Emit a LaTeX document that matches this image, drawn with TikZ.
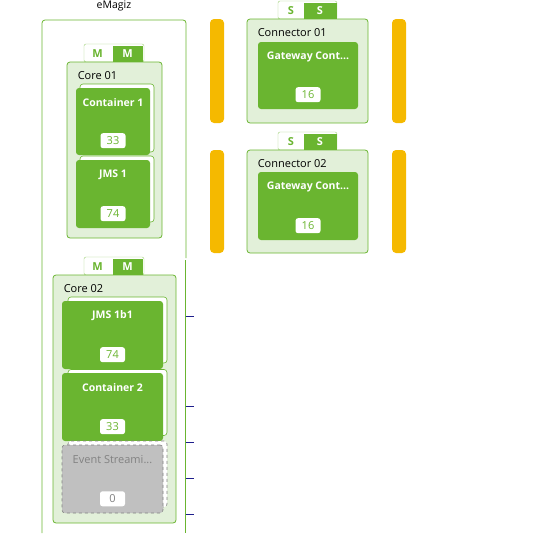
\documentclass[tikz,border=0pt]{standalone}
\usepackage{fontspec}
\setmainfont{Open Sans}
\usepackage{tikz}
\usetikzlibrary{positioning, calc}

\definecolor{emzgreen}{RGB}{106, 181, 48}
\definecolor{emzlight}{RGB}{226, 240, 217}
\definecolor{emztab}{RGB}{160, 210, 120}
\definecolor{emzyellow}{RGB}{245, 185, 0}
\definecolor{emzgray}{RGB}{192, 192, 192}
\definecolor{emzdash}{RGB}{130, 130, 130}
\definecolor{emzblue}{RGB}{30, 30, 140}

\tikzset{
  groupbox/.style={draw=emzgreen, fill=emzlight, rounded corners=3pt, line width=0.8pt},
  cardback/.style={draw=emzgreen, fill=white, rounded corners=3pt, line width=0.6pt},
  card/.style={fill=emzgreen, rounded corners=3pt},
  cardtitle/.style={font=\fontsize{10.5}{12}\selectfont\bfseries, text=white},
  badge/.style={fill=white, rounded corners=2.5pt, minimum width=25pt, minimum height=15pt, inner sep=0pt, font=\fontsize{11}{12}\selectfont, text=emzgreen},
  grouptitle/.style={font=\fontsize{11}{13}\selectfont, anchor=west, inner sep=0pt},
  tabcell/.style={minimum height=18pt, inner sep=0pt, font=\fontsize{11}{12}\selectfont\bfseries},
  ybar/.style={fill=emzyellow, rounded corners=4pt, minimum width=14pt, inner sep=0pt}
}

\begin{document}
\begin{tikzpicture}[x=1pt, y=-1pt]
  \useasboundingbox (0,0) rectangle (559,533);

  % eMagiz frame
  \node[font=\fontsize{10.5}{12}\selectfont] (emtitle) at (114, 6) {eMagiz};
  \draw[emzgreen, line width=0.8pt, rounded corners=3pt] (42, 533) -- (42, 20) -- (186, 20) -- (186, 258);
  \draw[emzgreen, line width=0.8pt] (185, 260) -- (185, 533);
  \foreach \ty in {316, 406, 442, 478, 514}
    \draw[emzblue, line width=0.8pt] (185.5, \ty) -- (194, \ty);

  % Core 01
  \node[tabcell, draw=emztab, fill=white, rounded corners=2pt, minimum width=60pt] (tabA) at (114, 53) {};
  \node[tabcell, fill=emzgreen, text=white, minimum width=30pt, minimum height=16pt] (tabAr) at (127.5, 53.5) {M};
  \node[tabcell, text=emzgreen, minimum width=26pt, minimum height=16pt] (tabAl) at (97.5, 53.5) {M};
  \node[groupbox, minimum width=95pt, minimum height=176pt] (core1) at (114.5, 150) {};
  \node[grouptitle] (core1t) at ($(core1.north west)+(11, 14)$) {Core 01};

  \node[cardback, minimum width=74pt, minimum height=68pt] (cont1b) at (117, 118) {};
  \node[card, minimum width=74pt, minimum height=67pt] (cont1) at (113, 121.5) {};
  \node[cardtitle] (cont1t) at ($(cont1.north)+(0, 15)$) {Container 1};
  \node[badge] (cont1n) at ($(cont1.south)+(0, -14.5)$) {33};

  \node[cardback, minimum width=74pt, minimum height=66pt] (jms1b) at (117, 189) {};
  \node[card, minimum width=74pt, minimum height=68pt] (jms1) at (113, 194) {};
  \node[cardtitle] (jms1t) at ($(jms1.north)+(0, 15)$) {JMS 1};
  \node[badge] (jms1n) at ($(jms1.south)+(0, -14.5)$) {74};

  % Core 02
  \node[tabcell, draw=emztab, fill=white, rounded corners=2pt, minimum width=60pt] (tabB) at (114, 266) {};
  \node[tabcell, fill=emzgreen, text=white, minimum width=30pt, minimum height=16pt] (tabBr) at (127.5, 266.5) {M};
  \node[tabcell, text=emzgreen, minimum width=26pt, minimum height=16pt] (tabBl) at (97.5, 266.5) {M};
  \node[groupbox, minimum width=123pt, minimum height=248pt] (core2) at (114.5, 399) {};
  \node[grouptitle] (core2t) at ($(core2.north west)+(11, 14)$) {Core 02};

  \node[cardback, minimum width=99pt, minimum height=66pt] (jmsbb) at (117.5, 330) {};
  \node[card, minimum width=101pt, minimum height=68pt] (jmsb) at (112.5, 335) {};
  \node[cardtitle] (jmsbt) at ($(jmsb.north)+(0, 15)$) {JMS 1b1};
  \node[badge] (jmsbn) at ($(jmsb.south)+(0, -14.5)$) {74};

  \node[cardback, minimum width=99pt, minimum height=66pt] (cont2b) at (117.5, 402.5) {};
  \node[card, minimum width=101pt, minimum height=68pt] (cont2) at (112.5, 407) {};
  \node[cardtitle] (cont2t) at ($(cont2.north)+(0, 15)$) {Container 2};
  \node[badge] (cont2n) at ($(cont2.south)+(0, -14.5)$) {33};

  \node[cardback, draw=emzdash, dashed, minimum width=99pt, minimum height=66pt] (evtb) at (117.5, 474) {};
  \node[card, fill=emzgray, draw=emzdash, dashed, line width=0.6pt, minimum width=101pt, minimum height=68pt] (evt) at (112.5, 479) {};
  \node[cardtitle, font=\fontsize{11}{12}\selectfont, text=emzdash] (evtt) at ($(evt.north)+(0, 15)$) {Event Streami...};
  \node[badge, text=emzdash] (evtn) at ($(evt.south)+(0, -14.5)$) {0};

  % Connector 01
  \node[ybar, minimum height=104pt] (bar1l) at (217, 71) {};
  \node[ybar, minimum height=104pt] (bar1r) at (399, 71) {};
  \node[tabcell, draw=emztab, fill=white, rounded corners=2pt, minimum width=59pt] (tabC) at (307.5, 10) {};
  \node[tabcell, fill=emzgreen, text=white, minimum width=33pt, minimum height=16pt] (tabCr) at (320, 10.5) {S};
  \node[tabcell, text=emzgreen, minimum width=24pt, minimum height=16pt] (tabCl) at (291, 10.5) {S};
  \node[groupbox, minimum width=121pt, minimum height=104pt] (conn1) at (307.5, 71) {};
  \node[grouptitle] (conn1t) at ($(conn1.north west)+(11, 14)$) {Connector 01};
  \node[card, minimum width=100pt, minimum height=67pt] (gw1) at (308, 75.5) {};
  \node[cardtitle] (gw1t) at ($(gw1.north)+(0, 15)$) {Gateway Cont...};
  \node[badge] (gw1n) at ($(gw1.south)+(0, -14.5)$) {16};

  % Connector 02
  \node[ybar, minimum height=103pt] (bar2l) at (217, 201.5) {};
  \node[ybar, minimum height=103pt] (bar2r) at (399, 201.5) {};
  \node[tabcell, draw=emztab, fill=white, rounded corners=2pt, minimum width=59pt] (tabD) at (307.5, 141) {};
  \node[tabcell, fill=emzgreen, text=white, minimum width=33pt, minimum height=16pt] (tabDr) at (320, 141.5) {S};
  \node[tabcell, text=emzgreen, minimum width=24pt, minimum height=16pt] (tabDl) at (291, 141.5) {S};
  \node[groupbox, minimum width=121pt, minimum height=103pt] (conn2) at (307.5, 201.5) {};
  \node[grouptitle] (conn2t) at ($(conn2.north west)+(11, 14)$) {Connector 02};
  \node[card, minimum width=100pt, minimum height=68pt] (gw2) at (308, 206) {};
  \node[cardtitle] (gw2t) at ($(gw2.north)+(0, 15)$) {Gateway Cont...};
  \node[badge] (gw2n) at ($(gw2.south)+(0, -14.5)$) {16};
\end{tikzpicture}
\end{document}
